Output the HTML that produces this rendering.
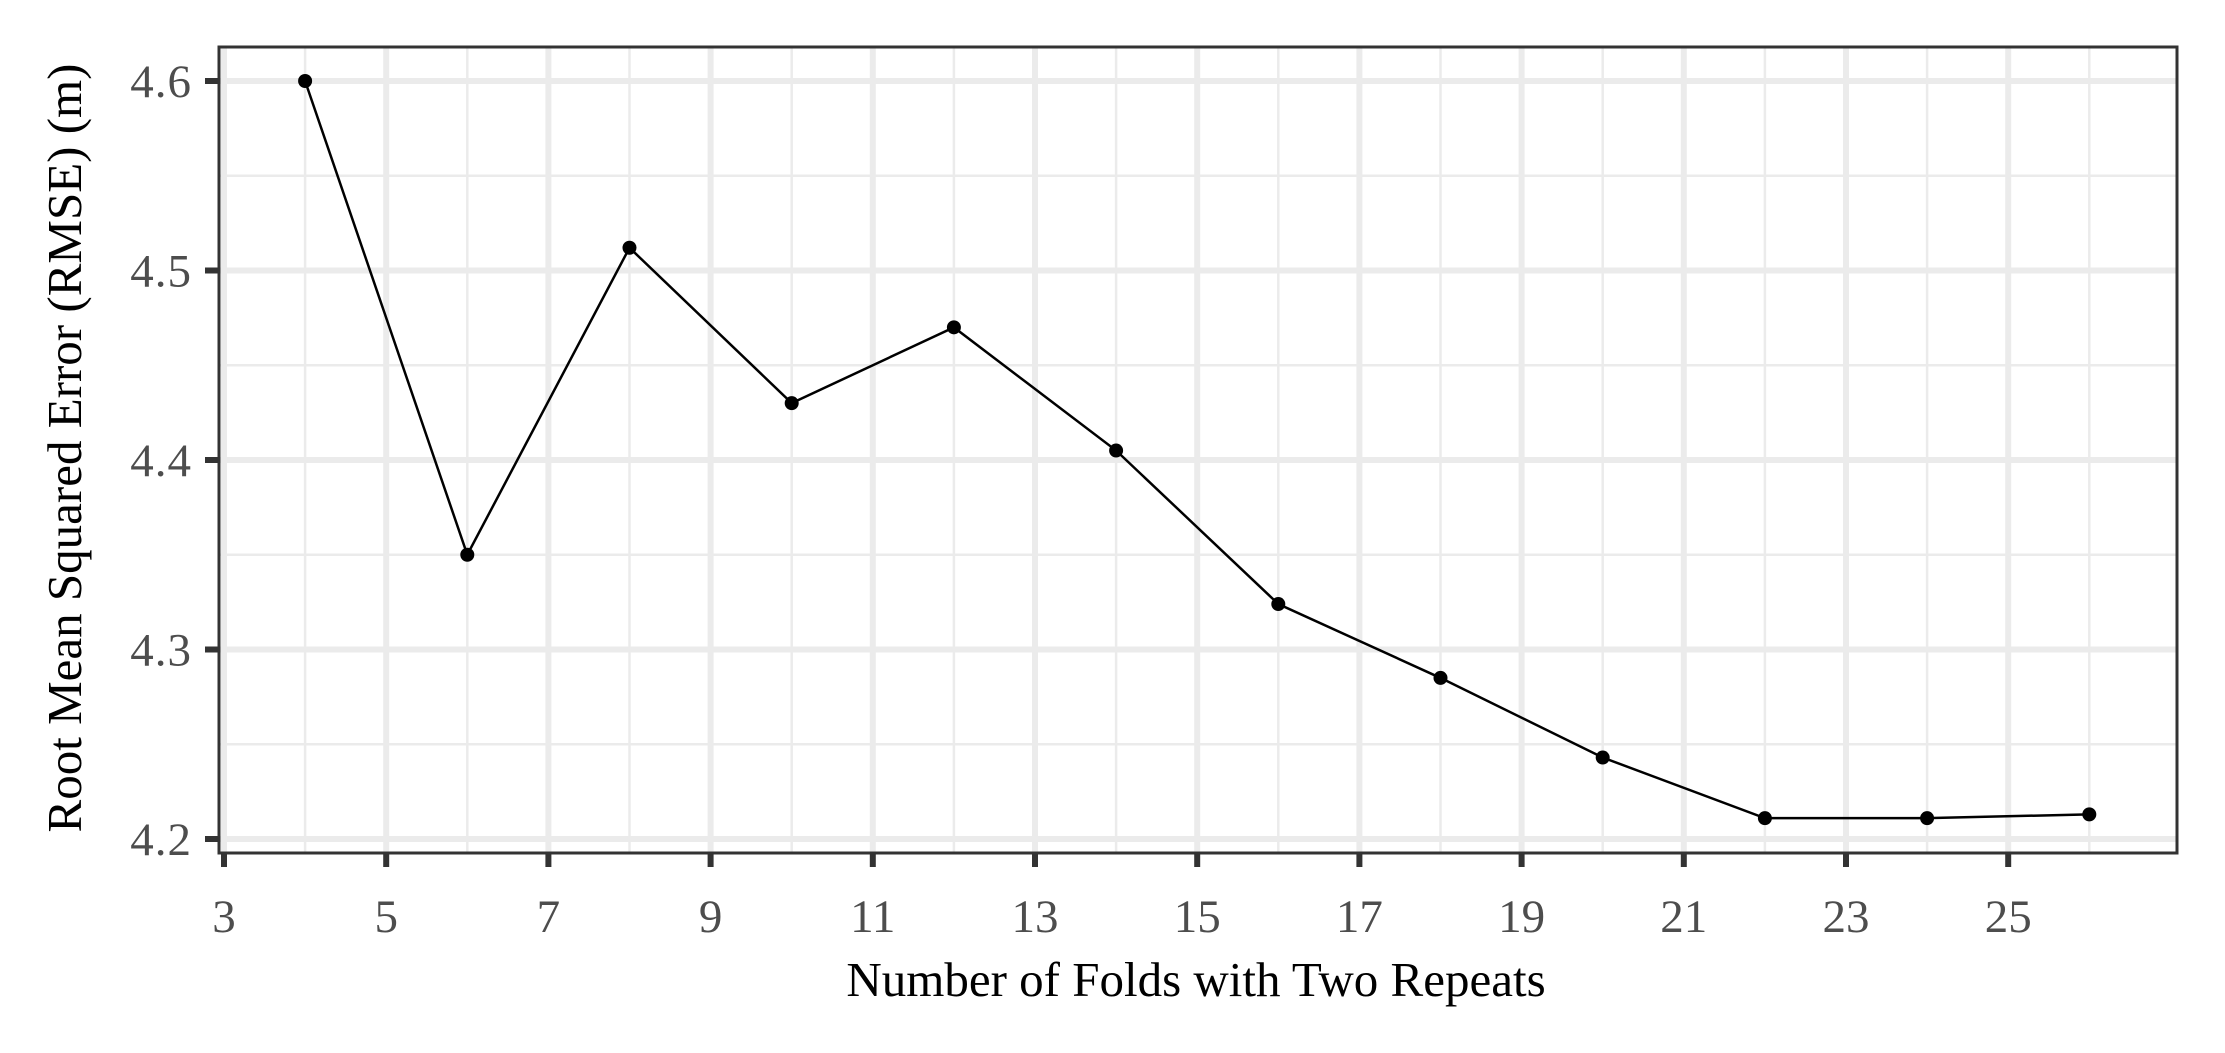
<!DOCTYPE html>
<html><head><meta charset="utf-8"><style>
html,body{margin:0;padding:0;background:#fff;}
svg{display:block;font-family:"Liberation Serif",serif;}
</style></head><body>
<svg id="chart" width="2225" height="1053" viewBox="0 0 2225 1053" xmlns="http://www.w3.org/2000/svg">
<rect x="0" y="0" width="2225" height="1053" fill="#fff"/>
<g id="grid"></g>
<g id="series"></g>
<rect x="219" y="47" width="1958" height="806" fill="none" stroke="#333" stroke-width="3"/>
<g id="axes"></g>
<text transform="translate(81,448) rotate(-90)" text-anchor="middle" font-size="49" fill="#000">Root Mean Squared Error (RMSE) (m)</text>
<text x="1196" y="996" text-anchor="middle" font-size="49" fill="#000">Number of Folds with Two Repeats</text>
</svg>
<script>
const folds = [4,6,8,10,12,14,16,18,20,22,24,26];
const rmse = [4.600,4.350,4.512,4.430,4.470,4.405,4.324,4.285,4.243,4.211,4.211,4.213];
const xTicks = [3,5,7,9,11,13,15,17,19,21,23,25];
const xMinor = [4,6,8,10,12,14,16,18,20,22,24,26];
const yTicks = [4.2,4.3,4.4,4.5,4.6];
const yMinor = [4.25,4.35,4.45,4.55];

const L=219,R=2177,T=47,B=853;
const sx = v => 224 + (v-3)*81.1;
const sy = v => 839 - (v-4.2)*1895;
const NS="http://www.w3.org/2000/svg";
function mk(tag, attrs, parent){const e=document.createElementNS(NS,tag);for(const k in attrs)e.setAttribute(k,attrs[k]);parent.appendChild(e);return e;}
const grid=document.getElementById('grid'), series=document.getElementById('series'), axes=document.getElementById('axes');

yMinor.forEach(v=>{const e=mk('line',{x1:L,x2:R,y1:sy(v),y2:sy(v),stroke:'#ebebeb','stroke-width':2.5},grid);

});
xMinor.forEach(v=>{const e=mk('line',{x1:sx(v),x2:sx(v),y1:T,y2:B,stroke:'#ebebeb','stroke-width':2.5},grid);

});
yTicks.forEach(v=>{const e=mk('line',{x1:L,x2:R,y1:sy(v),y2:sy(v),stroke:'#ebebeb','stroke-width':6},grid);


const t=mk('line',{x1:L-14,x2:L,y1:sy(v),y2:sy(v),stroke:'#333','stroke-width':6},axes);


const l=mk('text',{x:L-27,y:sy(v)+16,'text-anchor':'end','font-size':47,fill:'#4d4d4d','letter-spacing':'1'},axes);
l.textContent=v.toFixed(1);

});
xTicks.forEach(v=>{const e=mk('line',{x1:sx(v),x2:sx(v),y1:T,y2:B,stroke:'#ebebeb','stroke-width':6},grid);


const t=mk('line',{x1:sx(v),x2:sx(v),y1:B,y2:B+14,stroke:'#333','stroke-width':6},axes);


const l=mk('text',{x:sx(v),y:932,'text-anchor':'middle','font-size':47,fill:'#4d4d4d'},axes);
l.textContent=v;

});

const line=mk('polyline',{points:folds.map((f,i)=>sx(f)+','+sy(rmse[i])).join(' '),fill:'none',stroke:'#000','stroke-width':2.5},series);


folds.forEach((f,i)=>{const c=mk('circle',{cx:sx(f),cy:sy(rmse[i]),r:7,fill:'#000'},series);

});
</script>
</body></html>
